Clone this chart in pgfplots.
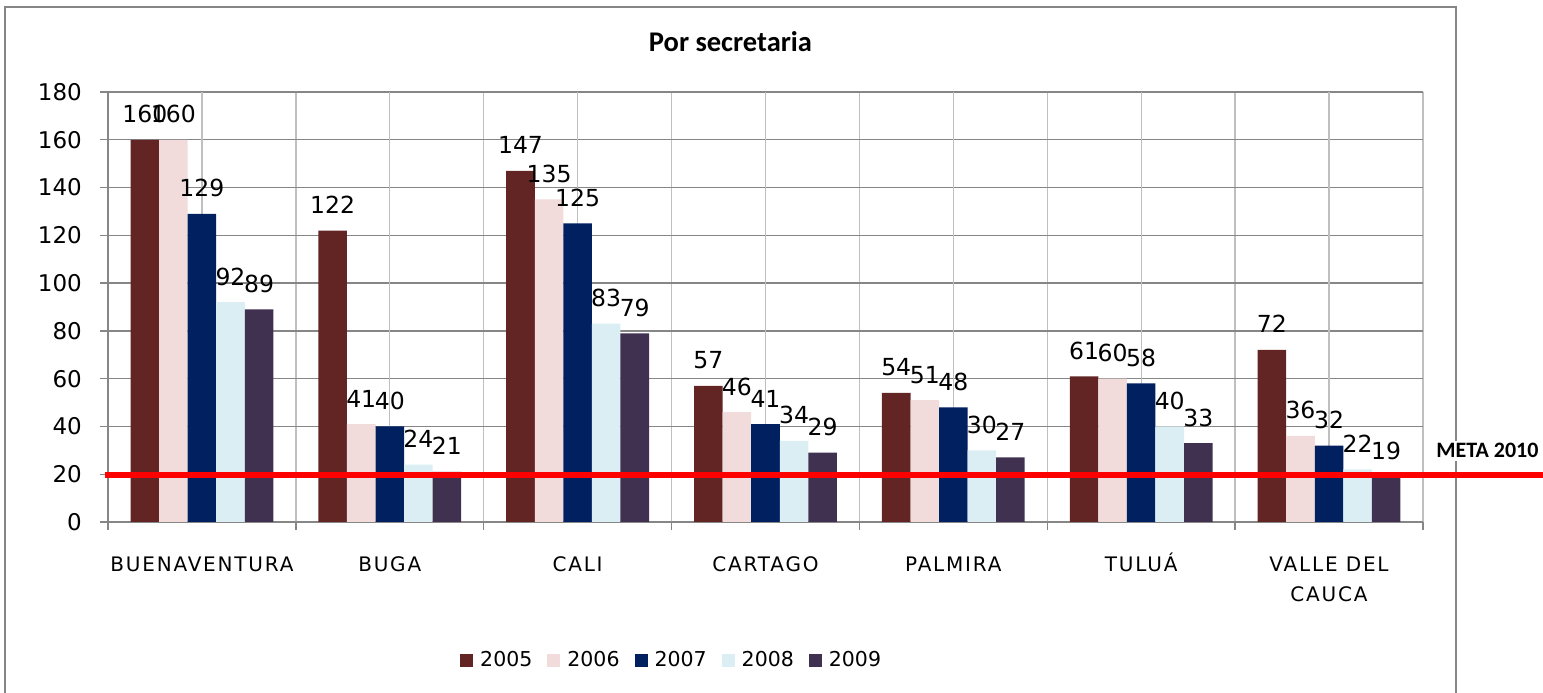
\documentclass[border=0pt]{standalone}
\usepackage{fontspec}
\setmainfont{DejaVu Sans}
\newfontfamily\calib{Carlito}
\newfontfamily\catfont[LetterSpace=9]{DejaVu Sans}
\usepackage{pgfplots}
\pgfplotsset{compat=1.18}

\definecolor{c2005}{HTML}{632523}
\definecolor{c2006}{HTML}{F2DCDB}
\definecolor{c2007}{HTML}{002060}
\definecolor{c2008}{HTML}{DBEEF4}
\definecolor{c2009}{HTML}{403151}
\definecolor{gridh}{HTML}{868686}
\definecolor{gridv}{HTML}{BFBFBF}

\begin{document}
\begin{tikzpicture}
\useasboundingbox (0,0) rectangle (1543pt,693pt);
% outer frame of the chart
\draw[gridh, line width=2pt] (5pt,-20pt) -- (5pt,686pt) -- (1456pt,686pt) -- (1456pt,-20pt);
\node[anchor=base, font=\calib\bfseries\fontsize{28.5}{32}\selectfont] at (730.5pt,641pt) {Por secretaria};

\begin{axis}[
    at={(108pt,171pt)}, anchor=south west,
    scale only axis, width=1315pt, height=430pt,
    ymin=0, ymax=180, ytick={0,20,...,180},
    xmin=-0.5, xmax=6.5,
    xtick={-0.5,0.5,...,6.5}, xticklabels={},
    extra x ticks={0,1,2,3,4,5,6},
    extra x tick labels={\vphantom{Á}BUENAVENTURA,\vphantom{Á}BUGA,\vphantom{Á}CALI,\vphantom{Á}CARTAGO,\vphantom{Á}PALMIRA,TULUÁ,{\vphantom{Á}VALLE DEL\\CAUCA}},
    extra x tick style={major tick length=0pt, grid=major,
        major grid style={gridv, line width=1.3pt}},
    axis x line=bottom, axis y line=left,
    axis line style={gridh, line width=1.5pt, -},
    tick align=outside, major tick length=8pt,
    tick style={gridh, line width=1.3pt},
    xmajorgrids, ymajorgrids,
    x grid style={gridv, line width=1.3pt},
    y grid style={gridh, line width=1.3pt},
    yticklabel style={font=\fontsize{23}{26}\selectfont, inner sep=0pt, xshift=-18pt},
    xticklabel style={font=\catfont\fontsize{20}{30}\selectfont, align=center, inner sep=0pt, yshift=-31pt},
    /pgf/number format/assume math mode=true,
    ybar=0pt, bar width=0.152,
    nodes near coords,
    every node near coord/.append style={font=\fontsize{23.5}{26}\selectfont, anchor=base, inner sep=0pt, yshift=17pt, black},
    clip=false,
    legend columns=5,
    legend image code/.code={\fill[#1] (0pt,-6.5pt) rectangle (13pt,6.5pt);},
    legend style={draw=none, at={(0.2677,-0.321)}, anchor=west, inner sep=0pt,
        font=\fontsize{20.5}{24}\selectfont,
        nodes={inner sep=0pt},
        /tikz/every odd column/.append style={column sep=7pt},
        /tikz/every even column/.append style={column sep=15pt}},
]
\addplot[fill=c2005, draw=none] coordinates {(0,160) (1,122) (2,147) (3,57) (4,54) (5,61) (6,72)};
\addplot[fill=c2006, draw=none] coordinates {(0,160) (1,41) (2,135) (3,46) (4,51) (5,60) (6,36)};
\addplot[fill=c2007, draw=none] coordinates {(0,129) (1,40) (2,125) (3,41) (4,48) (5,58) (6,32)};
\addplot[fill=c2008, draw=none] coordinates {(0,92) (1,24) (2,83) (3,34) (4,30) (5,40) (6,22)};
\addplot[fill=c2009, draw=none] coordinates {(0,89) (1,21) (2,79) (3,29) (4,27) (5,33) (6,19)};
\legend{2005,2006,2007,2008,2009}
\draw[red, line width=6pt] (axis cs:-0.516,19.5) -- (axis cs:7.2,19.5);
\end{axis}
\node[anchor=base, fill=white, inner sep=3pt, font=\calib\bfseries\fontsize{22}{24}\selectfont] at (1487.5pt,235pt) {META 2010};
\end{tikzpicture}
\end{document}
